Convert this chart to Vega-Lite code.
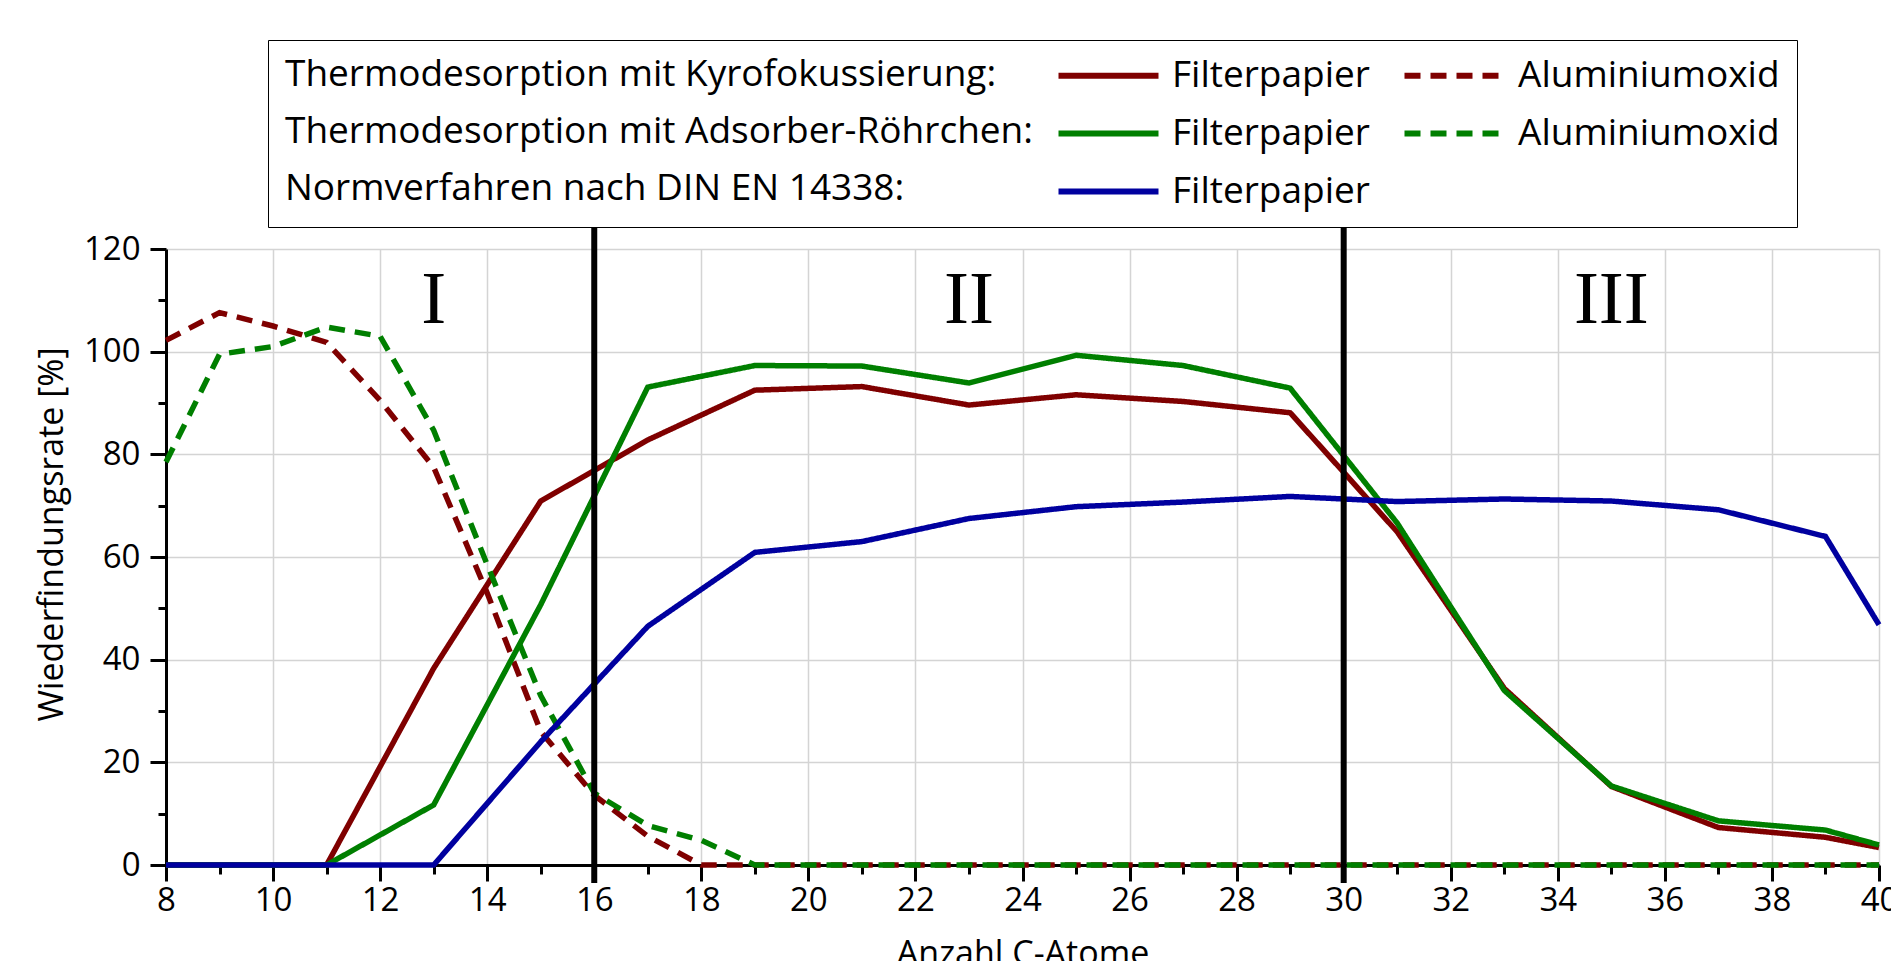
{
  "$schema": "https://vega.github.io/schema/vega-lite/v6.json",
  "width": 1713,
  "height": 616,
  "autosize": {"type": "none"},
  "padding": {"left": 166, "top": 249, "right": 12, "bottom": 96},
  "background": "white",
  "config": {
    "view": {"stroke": null},
    "font": "Open Sans",
    "axis": {
      "domainColor": "black",
      "domainWidth": 3,
      "tickColor": "black",
      "tickWidth": 3,
      "gridColor": "#d4d4d4",
      "gridWidth": 1.5,
      "labelColor": "black",
      "labelFont": "Open Sans",
      "labelFontSize": 33,
      "titleFont": "Open Sans",
      "titleFontSize": 34,
      "titleFontWeight": "normal",
      "titleColor": "black",
      "labelOverlap": false,
      "labelFlush": false
    }
  },
  "datasets": {
    "curves": [
      {"C": 8, "value": 0, "series": "Kyrofokussierung Filterpapier"},
      {"C": 9, "value": 0, "series": "Kyrofokussierung Filterpapier"},
      {"C": 11, "value": 0, "series": "Kyrofokussierung Filterpapier"},
      {"C": 13, "value": 38.3, "series": "Kyrofokussierung Filterpapier"},
      {"C": 15, "value": 70.9, "series": "Kyrofokussierung Filterpapier"},
      {"C": 17, "value": 82.8, "series": "Kyrofokussierung Filterpapier"},
      {"C": 19, "value": 92.5, "series": "Kyrofokussierung Filterpapier"},
      {"C": 21, "value": 93.2, "series": "Kyrofokussierung Filterpapier"},
      {"C": 23, "value": 89.6, "series": "Kyrofokussierung Filterpapier"},
      {"C": 25, "value": 91.6, "series": "Kyrofokussierung Filterpapier"},
      {"C": 27, "value": 90.3, "series": "Kyrofokussierung Filterpapier"},
      {"C": 29, "value": 88.1, "series": "Kyrofokussierung Filterpapier"},
      {"C": 31, "value": 64.9, "series": "Kyrofokussierung Filterpapier"},
      {"C": 33, "value": 34.4, "series": "Kyrofokussierung Filterpapier"},
      {"C": 35, "value": 15.3, "series": "Kyrofokussierung Filterpapier"},
      {"C": 37, "value": 7.3, "series": "Kyrofokussierung Filterpapier"},
      {"C": 39, "value": 5.4, "series": "Kyrofokussierung Filterpapier"},
      {"C": 40, "value": 3.4, "series": "Kyrofokussierung Filterpapier"},

      {"C": 8, "value": 102.2, "series": "Kyrofokussierung Aluminiumoxid"},
      {"C": 9, "value": 107.6, "series": "Kyrofokussierung Aluminiumoxid"},
      {"C": 10, "value": 105.0, "series": "Kyrofokussierung Aluminiumoxid"},
      {"C": 11, "value": 101.8, "series": "Kyrofokussierung Aluminiumoxid"},
      {"C": 12, "value": 90.5, "series": "Kyrofokussierung Aluminiumoxid"},
      {"C": 13, "value": 77.5, "series": "Kyrofokussierung Aluminiumoxid"},
      {"C": 14, "value": 53.0, "series": "Kyrofokussierung Aluminiumoxid"},
      {"C": 15, "value": 26.0, "series": "Kyrofokussierung Aluminiumoxid"},
      {"C": 16, "value": 13.6, "series": "Kyrofokussierung Aluminiumoxid"},
      {"C": 17, "value": 5.6, "series": "Kyrofokussierung Aluminiumoxid"},
      {"C": 18, "value": 0, "series": "Kyrofokussierung Aluminiumoxid"},
      {"C": 19, "value": 0, "series": "Kyrofokussierung Aluminiumoxid"},
      {"C": 21, "value": 0, "series": "Kyrofokussierung Aluminiumoxid"},
      {"C": 23, "value": 0, "series": "Kyrofokussierung Aluminiumoxid"},
      {"C": 25, "value": 0, "series": "Kyrofokussierung Aluminiumoxid"},
      {"C": 27, "value": 0, "series": "Kyrofokussierung Aluminiumoxid"},
      {"C": 29, "value": 0, "series": "Kyrofokussierung Aluminiumoxid"},
      {"C": 31, "value": 0, "series": "Kyrofokussierung Aluminiumoxid"},
      {"C": 33, "value": 0, "series": "Kyrofokussierung Aluminiumoxid"},
      {"C": 35, "value": 0, "series": "Kyrofokussierung Aluminiumoxid"},
      {"C": 37, "value": 0, "series": "Kyrofokussierung Aluminiumoxid"},
      {"C": 39, "value": 0, "series": "Kyrofokussierung Aluminiumoxid"},
      {"C": 40, "value": 0, "series": "Kyrofokussierung Aluminiumoxid"},

      {"C": 8, "value": 0, "series": "Adsorber Filterpapier"},
      {"C": 9, "value": 0, "series": "Adsorber Filterpapier"},
      {"C": 11, "value": 0, "series": "Adsorber Filterpapier"},
      {"C": 13, "value": 11.7, "series": "Adsorber Filterpapier"},
      {"C": 15, "value": 50.7, "series": "Adsorber Filterpapier"},
      {"C": 17, "value": 93.1, "series": "Adsorber Filterpapier"},
      {"C": 19, "value": 97.3, "series": "Adsorber Filterpapier"},
      {"C": 21, "value": 97.2, "series": "Adsorber Filterpapier"},
      {"C": 23, "value": 93.9, "series": "Adsorber Filterpapier"},
      {"C": 25, "value": 99.3, "series": "Adsorber Filterpapier"},
      {"C": 27, "value": 97.3, "series": "Adsorber Filterpapier"},
      {"C": 29, "value": 92.9, "series": "Adsorber Filterpapier"},
      {"C": 31, "value": 66.6, "series": "Adsorber Filterpapier"},
      {"C": 33, "value": 34.0, "series": "Adsorber Filterpapier"},
      {"C": 35, "value": 15.4, "series": "Adsorber Filterpapier"},
      {"C": 37, "value": 8.6, "series": "Adsorber Filterpapier"},
      {"C": 39, "value": 6.8, "series": "Adsorber Filterpapier"},
      {"C": 40, "value": 3.9, "series": "Adsorber Filterpapier"},

      {"C": 8, "value": 78.5, "series": "Adsorber Aluminiumoxid"},
      {"C": 9, "value": 99.5, "series": "Adsorber Aluminiumoxid"},
      {"C": 10, "value": 101.0, "series": "Adsorber Aluminiumoxid"},
      {"C": 11, "value": 104.8, "series": "Adsorber Aluminiumoxid"},
      {"C": 12, "value": 103.0, "series": "Adsorber Aluminiumoxid"},
      {"C": 13, "value": 84.7, "series": "Adsorber Aluminiumoxid"},
      {"C": 14, "value": 58.5, "series": "Adsorber Aluminiumoxid"},
      {"C": 15, "value": 33.0, "series": "Adsorber Aluminiumoxid"},
      {"C": 16, "value": 14.0, "series": "Adsorber Aluminiumoxid"},
      {"C": 17, "value": 7.7, "series": "Adsorber Aluminiumoxid"},
      {"C": 18, "value": 4.8, "series": "Adsorber Aluminiumoxid"},
      {"C": 19, "value": 0, "series": "Adsorber Aluminiumoxid"},
      {"C": 21, "value": 0, "series": "Adsorber Aluminiumoxid"},
      {"C": 23, "value": 0, "series": "Adsorber Aluminiumoxid"},
      {"C": 25, "value": 0, "series": "Adsorber Aluminiumoxid"},
      {"C": 27, "value": 0, "series": "Adsorber Aluminiumoxid"},
      {"C": 29, "value": 0, "series": "Adsorber Aluminiumoxid"},
      {"C": 31, "value": 0, "series": "Adsorber Aluminiumoxid"},
      {"C": 33, "value": 0, "series": "Adsorber Aluminiumoxid"},
      {"C": 35, "value": 0, "series": "Adsorber Aluminiumoxid"},
      {"C": 37, "value": 0, "series": "Adsorber Aluminiumoxid"},
      {"C": 39, "value": 0, "series": "Adsorber Aluminiumoxid"},
      {"C": 40, "value": 0, "series": "Adsorber Aluminiumoxid"},

      {"C": 8, "value": 0, "series": "Norm Filterpapier"},
      {"C": 9, "value": 0, "series": "Norm Filterpapier"},
      {"C": 11, "value": 0, "series": "Norm Filterpapier"},
      {"C": 13, "value": 0, "series": "Norm Filterpapier"},
      {"C": 15, "value": 24.0, "series": "Norm Filterpapier"},
      {"C": 17, "value": 46.5, "series": "Norm Filterpapier"},
      {"C": 19, "value": 60.9, "series": "Norm Filterpapier"},
      {"C": 21, "value": 63.0, "series": "Norm Filterpapier"},
      {"C": 23, "value": 67.5, "series": "Norm Filterpapier"},
      {"C": 25, "value": 69.8, "series": "Norm Filterpapier"},
      {"C": 27, "value": 70.7, "series": "Norm Filterpapier"},
      {"C": 29, "value": 71.8, "series": "Norm Filterpapier"},
      {"C": 31, "value": 70.8, "series": "Norm Filterpapier"},
      {"C": 33, "value": 71.3, "series": "Norm Filterpapier"},
      {"C": 35, "value": 70.9, "series": "Norm Filterpapier"},
      {"C": 37, "value": 69.2, "series": "Norm Filterpapier"},
      {"C": 39, "value": 64.0, "series": "Norm Filterpapier"},
      {"C": 40, "value": 46.8, "series": "Norm Filterpapier"}
    ],
    "bounds": [
      {"C": 16},
      {"C": 30}
    ],
    "regions": [
      {"C": 13, "value": 110, "label": "I"},
      {"C": 23, "value": 110, "label": "II"},
      {"C": 35, "value": 110, "label": "III"}
    ]
  },
  "layer": [
    {
      "data": {"name": "curves"},
      "mark": {"type": "line", "strokeWidth": 5.5, "strokeJoin": "miter", "clip": false},
      "encoding": {
        "x": {
          "field": "C",
          "type": "quantitative",
          "scale": {"domain": [8, 40], "nice": false, "zero": false},
          "axis": {
            "title": "Anzahl C-Atome",
            "values": [8,9,10,11,12,13,14,15,16,17,18,19,20,21,22,23,24,25,26,27,28,29,30,31,32,33,34,35,36,37,38,39,40],
            "labelExpr": "datum.value % 2 == 0 ? datum.label : ''",
            "tickSize": {"condition": {"test": "datum.value % 2 == 0", "value": 16}, "value": 9},
            "gridOpacity": {"condition": {"test": "datum.value % 2 == 0", "value": 1}, "value": 0},
            "labelPadding": 3,
            "titlePadding": 20
          }
        },
        "y": {
          "field": "value",
          "type": "quantitative",
          "scale": {"domain": [0, 120], "nice": false},
          "axis": {
            "title": "Wiederfindungsrate [%]",
            "values": [0,10,20,30,40,50,60,70,80,90,100,110,120],
            "labelExpr": "datum.value % 20 == 0 ? datum.label : ''",
            "tickSize": {"condition": {"test": "datum.value % 20 == 0", "value": 16}, "value": 8},
            "gridOpacity": {"condition": {"test": "datum.value % 20 == 0", "value": 1}, "value": 0},
            "labelPadding": 10,
            "titlePadding": 14,
            "titleY": 285
          }
        },
        "color": {
          "field": "series",
          "type": "nominal",
          "scale": {
            "domain": ["Kyrofokussierung Filterpapier", "Kyrofokussierung Aluminiumoxid", "Adsorber Filterpapier", "Adsorber Aluminiumoxid", "Norm Filterpapier"],
            "range": ["#7f0000", "#7f0000", "#007f00", "#007f00", "#00009f"]
          },
          "legend": {
            "orient": "none",
            "direction": "horizontal",
            "legendX": 102,
            "legendY": -209,
            "columns": 2,
            "columnPadding": 22,
            "rowPadding": 20,
            "title": ["Thermodesorption mit Kyrofokussierung:", "Thermodesorption mit Adsorber-Röhrchen:", "Normverfahren nach DIN EN 14338:"],
            "titleOrient": "left",
            "titleAnchor": "start",
            "titleAlign": "left",
            "titleBaseline": "top",
            "titleLineHeight": 57,
            "titleFont": "Open Sans",
            "titleFontSize": 37,
            "titleFontWeight": "normal",
            "titleColor": "black",
            "titleLimit": 2000,
            "titlePadding": 16,
            "labelFont": "Open Sans",
            "labelFontSize": 37,
            "labelColor": "black",
            "labelLimit": 1000,
            "labelExpr": "split(datum.label, ' ')[1]",
            "symbolType": "M-5,0H5",
            "symbolSize": 400,
            "symbolStrokeWidth": 6,
            "symbolOffset": 40,
            "labelOffset": 45,
            "strokeColor": "black",
            "fillColor": "white",
            "padding": 17
          }
        },
        "strokeDash": {
          "field": "series",
          "type": "nominal",
          "scale": {
            "domain": ["Kyrofokussierung Filterpapier", "Kyrofokussierung Aluminiumoxid", "Adsorber Filterpapier", "Adsorber Aluminiumoxid", "Norm Filterpapier"],
            "range": [[1, 0], [16, 10], [1, 0], [16, 10], [1, 0]]
          }
        }
      }
    },
    {
      "data": {"name": "bounds"},
      "mark": {"type": "rule", "color": "black", "strokeWidth": 6, "clip": false},
      "encoding": {
        "x": {"field": "C", "type": "quantitative"},
        "y": {"datum": -3.5},
        "y2": {"datum": 124.5}
      }
    },
    {
      "data": {"name": "regions"},
      "mark": {"type": "text", "font": "Liberation Serif", "fontSize": 75, "color": "black", "baseline": "middle", "align": "center"},
      "encoding": {
        "x": {"field": "C", "type": "quantitative"},
        "y": {"field": "value", "type": "quantitative"},
        "text": {"field": "label"}
      }
    }
  ]
}
